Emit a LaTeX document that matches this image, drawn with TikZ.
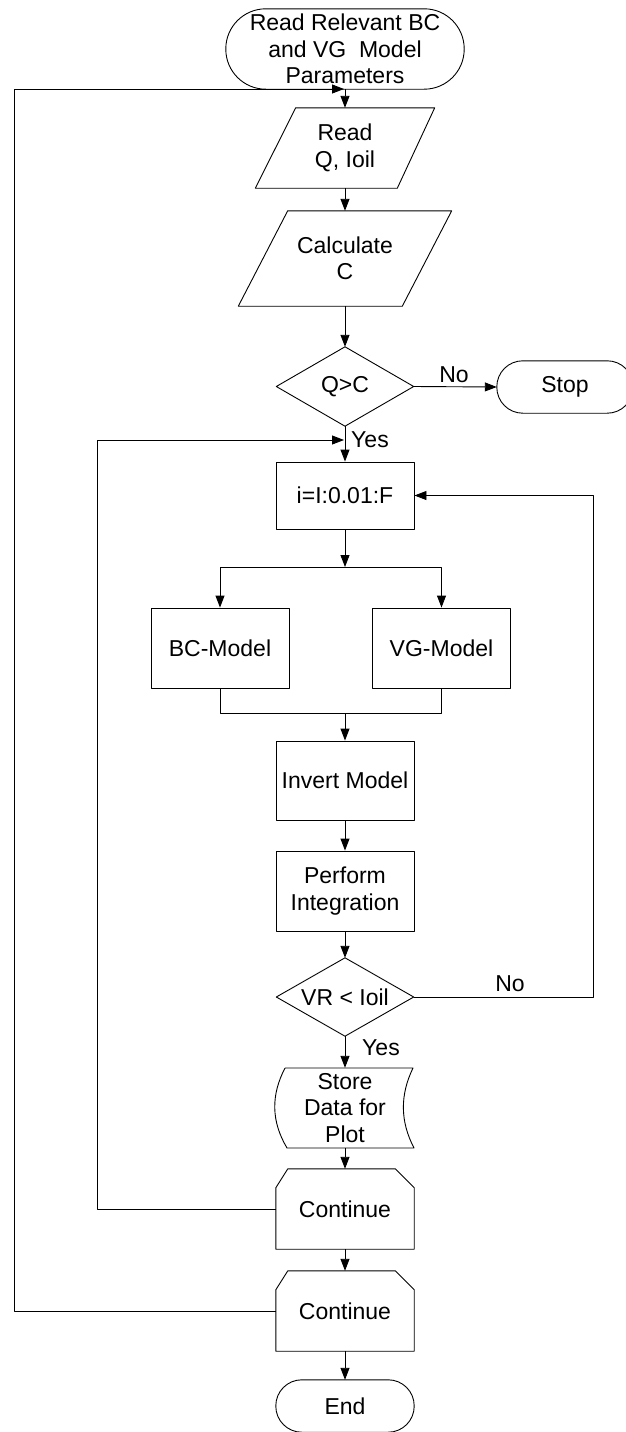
\documentclass[tikz,border=0pt]{standalone}
\usepackage{fontspec}
\setmainfont{Liberation Sans}
\usetikzlibrary{arrows.meta}
\begin{document}
\begin{tikzpicture}[x=1pt,y=-1pt,
  every node/.style={font=\fontsize{23}{26.5}\selectfont, align=center, inner sep=0pt},
  ln/.style={line width=0.9pt, line join=round},
  arr/.style={ln,-{Triangle[length=12pt,width=9pt]}},
  box/.style={draw, ln, minimum width=138pt, minimum height=80pt},
  lbl/.style={font=\fontsize{23}{26.5}\selectfont}
]
\useasboundingbox (0,0) rectangle (626,1432);

% start terminator
\node[minimum width=238pt,minimum height=80pt] (start) at (345,49) {Read Relevant BC\\and VG\ \ Model\\Parameters};
\draw[ln,rounded corners=40pt] (start.south west) rectangle (start.north east);

% read parallelogram
\node[minimum width=179pt,minimum height=80pt] (read) at (345,148) {Read\\Q, Ioil};
\draw[ln] (read.south west) -- ++(142,0) -- (read.north east) -- ++(-139,0) -- cycle;

% calculate parallelogram
\node[minimum width=213pt,minimum height=95pt] (calc) at (345,258.5) {Calculate\\C};
\draw[ln] (calc.south west) -- ++(164,0) -- (calc.north east) -- ++(-164,0) -- cycle;

% decision Q>C
\node[minimum width=137pt,minimum height=79pt] (q) at (345,386.5) {Q>C};
\draw[ln] (q.north) -- (q.east) -- (q.south) -- (q.west) -- cycle;

% stop
\node[minimum width=136pt,minimum height=52pt] (stop) at (565,387) {Stop};
\draw[ln,rounded corners=26pt] (stop.south west) rectangle (stop.north east);

% loop box
\node[box, minimum height=67pt] (loop) at (345,495.5) {i=I:0.01:F};

% models
\node[box] (bc) at (220,648) {BC-Model};
\node[box] (vg) at (441.5,648) {VG-Model};

% invert, perform
\node[box, minimum height=79pt] (inv) at (345,780.5) {Invert Model};
\node[box] (perf) at (345,891) {Perform\\Integration};

% decision VR < Ioil
\node[minimum width=137pt,minimum height=78pt] (vr) at (345,997) {VR < Ioil};
\draw[ln] (vr.north) -- (vr.east) -- (vr.south) -- (vr.west) -- cycle;

% stored data
\node[minimum width=138pt,minimum height=80pt] (store) at (345,1108) {Store\\Data for\\Plot};
\draw[ln] (285,1068) -- (413,1068) .. controls (400,1095) and (400,1121) .. (414,1148) -- (287,1148) .. controls (271,1121) and (271,1095) .. (285,1068);

% continue 1
\node[minimum width=138pt,minimum height=80pt] (c1) at (345,1209) {Continue};
\draw[ln] (c1.south west) -- ([yshift=-19pt]c1.north west) -- ([xshift=12pt]c1.north west) -- ([xshift=-19pt]c1.north east) -- ([yshift=-19pt]c1.north east) -- (c1.south east) -- cycle;

% continue 2
\node[minimum width=138pt,minimum height=80pt] (c2) at (345,1311) {Continue};
\draw[ln] (c2.south west) -- ([yshift=-19pt]c2.north west) -- ([xshift=12pt]c2.north west) -- ([xshift=-19pt]c2.north east) -- ([yshift=-19pt]c2.north east) -- (c2.south east) -- cycle;

% end
\node[minimum width=138pt,minimum height=52pt] (end) at (345,1406) {End};
\draw[ln,rounded corners=26pt] (end.south west) rectangle (end.north east);

% connectors
\draw[arr] (start.south) -- (read.north);
\draw[arr] (read.south) -- (calc.north);
\draw[arr] (calc.south) -- (q.north);
\draw[arr] (q.east) -- (stop.west);
\node[lbl] (no1) at (454,375) {No};
\draw[arr] (q.south) -- (loop.north);
\node[lbl] (yes1) at (370,440) {Yes};

\coordinate (split) at (345,567);
\draw[arr] (loop.south) -- (split);
\draw[arr] (split) -| (bc.north);
\draw[arr] (split) -| (vg.north);
\coordinate (merge) at (345,713);
\draw[ln] (bc.south) |- (merge);
\draw[ln] (vg.south) |- (merge);
\draw[arr] (merge) -- (inv.north);
\draw[arr] (inv.south) -- (perf.north);
\draw[arr] (perf.south) -- (vr.north);

\coordinate (rc) at (593,495.5);
\draw[arr] (vr.east) -| (rc) -- (loop.east);
\node[lbl] (no2) at (510,984) {No};

\draw[arr] (vr.south) -- (store.north);
\node[lbl] (yes2) at (381,1048) {Yes};
\draw[arr] (store.south) -- (c1.north);
\draw[arr] (c1.south) -- (c2.north);
\draw[arr] (c2.south) -- (end.north);

\coordinate (l1) at (97,440);
\coordinate (j1) at (344,440);
\draw[arr] (c1.west) -| (l1) -- (j1);
\coordinate (l2) at (14,89);
\coordinate (j2) at (344,89);
\draw[arr] (c2.west) -| (l2) -- (j2);
\end{tikzpicture}
\end{document}
